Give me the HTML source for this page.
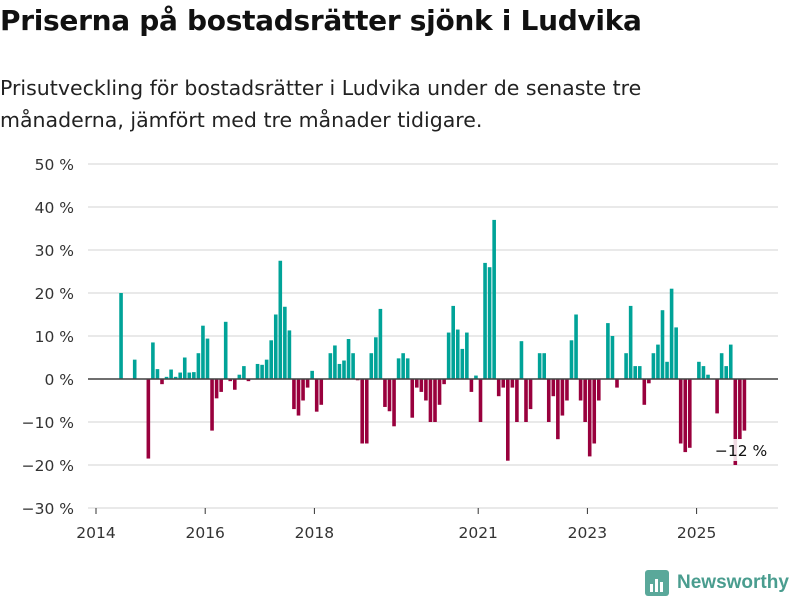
<!DOCTYPE html>
<html><head><meta charset="utf-8"><style>
body{margin:0;width:800px;height:600px;background:#fff;font-family:"DejaVu Sans",sans-serif;color:#111;overflow:hidden;position:relative}
h1{position:absolute;left:0;top:4px;margin:0;font-size:28px;font-weight:bold;letter-spacing:-0.3px}
p{position:absolute;left:0;top:72px;margin:0;font-size:20.5px;line-height:32px;color:#222}
svg{position:absolute;left:0;top:0}
</style></head><body>
<h1>Priserna på bostadsrätter sjönk i Ludvika</h1>
<p>Prisutveckling för bostadsrätter i Ludvika under de senaste tre<br>månaderna, jämfört med tre månader tidigare.</p>
<svg id="chart" width="800" height="600"></svg>
<script>
const yTicks=[50,40,30,20,10,0,-10,-20,-30];
const yearLabels=["2014","2016","2018","2021","2023","2025"];
const yearValues=[2014,2016,2018,2021,2023,2025];
const startMonth=5;
const values=[20,0,0,4.5,0,0,-18.5,8.5,2.3,-1.2,0.5,2.2,0.5,1.5,5,1.5,1.6,6,12.4,9.4,-12,-4.5,-3,13.3,-0.5,-2.5,1,3,-0.5,0,3.5,3.3,4.5,9,15,27.5,16.8,11.3,-7,-8.5,-5,-2,1.9,-7.6,-6,0,6,7.8,3.5,4.3,9.3,6,-0.3,-15,-15,6,9.7,16.3,-6.5,-7.5,-11,4.8,6,4.8,-9,-2,-3,-5,-10,-10,-6,-1.2,10.8,17,11.5,7,10.8,-3,0.8,-10,27,26,37,-4,-2,-19,-2,-10,8.8,-10,-7,0,6,6,-10,-4,-14,-8.5,-5,9,15,-5,-10,-18,-15,-5,0,13,10,-2,0,6,17,3,3,-6,-1,6,8,16,4,21,12,-15,-17,-16,0,4,3,1,0,-8,6,3,8,-20,-14,-12];
const NS="http://www.w3.org/2000/svg";
const svg=document.getElementById('chart');
function y(v){return 379-v*4.3;}
function xm(i){return 96+i*4.55;}
function mk(t,a){const e=document.createElementNS(NS,t);for(const k in a)e.setAttribute(k,a[k]);svg.appendChild(e);return e;}
yTicks.forEach(t=>{
 const l=mk('line',{x1:88,x2:778,y1:y(t),y2:y(t),stroke:'#e2e2e2','stroke-width':1.5});
 
 
 const tx=mk('text',{x:74,y:y(t)+6,'text-anchor':'end','font-size':15.5,fill:'#333','font-family':'DejaVu Sans, sans-serif'});
 tx.textContent=(t<0?'\u2212'+(-t):t)+' %';
 
 
});
values.forEach((v,k)=>{
 if(v===0)return;
 const i=startMonth+k;
 const r=mk('rect',{x:xm(i)+0.5,width:3.6,y:Math.min(y(v),y(0)),height:Math.abs(y(v)-y(0)),fill:v>0?'#00a398':'#99003d'});
 
 
});
const z=mk('line',{x1:88,x2:778,y1:y(0),y2:y(0),stroke:'#444','stroke-width':1.6});


yearValues.forEach((yr,k)=>{
 const x=xm((yr-2014)*12);
 const t=mk('line',{x1:x,x2:x,y1:508,y2:514,stroke:'#333','stroke-width':1});
 
 
 const tx=mk('text',{x:x,y:538,'text-anchor':'middle','font-size':15.5,fill:'#333','font-family':'DejaVu Sans, sans-serif'});
 tx.textContent=yearLabels[k];
 
 
});
const lastI=startMonth+values.length-1;
const bg=mk('rect',{x:718,y:439,width:52,height:22,fill:'#fff',opacity:0.85});


const lab=mk('text',{x:xm(lastI)-1,y:456,'text-anchor':'middle','font-size':15.5,fill:'#111','font-family':'DejaVu Sans, sans-serif'});
lab.textContent='\u2212'+(-values[values.length-1])+' %';


</script>
<div style="position:absolute;left:645px;top:570px;display:flex;align-items:center">
<svg width="24" height="26" style="position:static"><rect x="0" y="0" width="24" height="26" rx="3" fill="#5aa89a"/><rect x="5" y="14" width="3" height="8" fill="#fff"/><rect x="10" y="9" width="3" height="13" fill="#fff"/><rect x="15" y="12" width="3" height="10" fill="#fff"/></svg>
<span style="font-size:19px;font-weight:bold;color:#4a9d8f;margin-left:8px;font-family:'Liberation Sans',sans-serif">Newsworthy</span></div>
</body></html>
